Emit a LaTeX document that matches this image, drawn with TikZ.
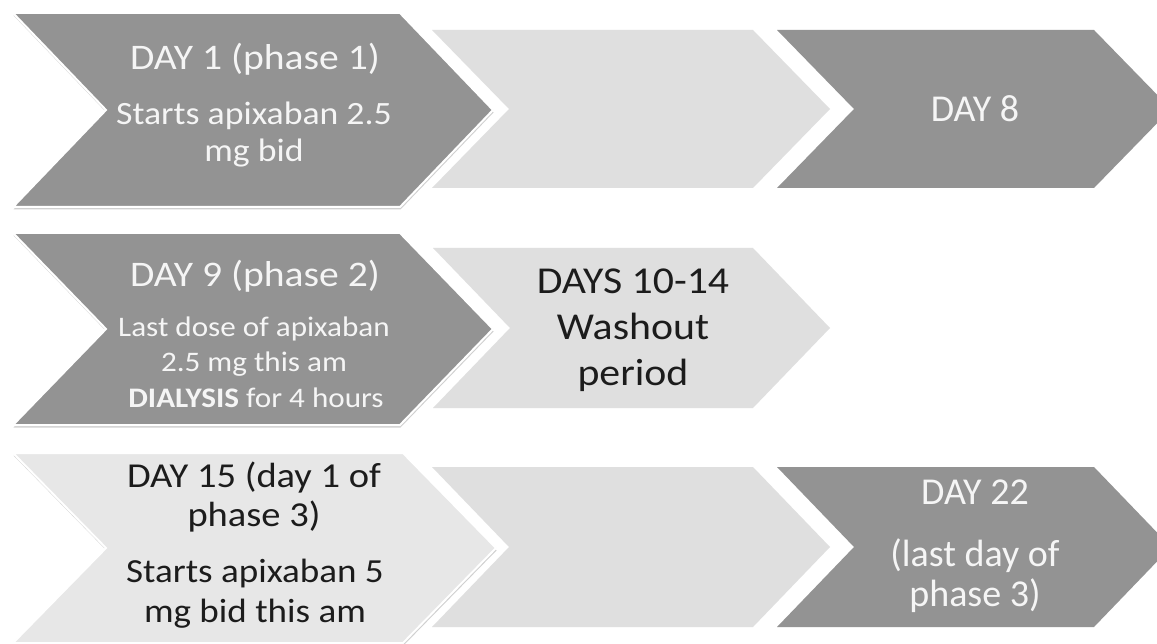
\documentclass[tikz,border=0pt]{standalone}
\usepackage{fontspec}
\setmainfont[FakeStretch=1.1]{Carlito}
\newfontfamily\plainfont{Carlito}
\usetikzlibrary{shadows}
\definecolor{darkchev}{HTML}{939393}
\definecolor{lightchev}{HTML}{DFDFDF}
\definecolor{palechev}{HTML}{E7E7E7}
\definecolor{whitetxt}{HTML}{F5F5F5}
\definecolor{darktxt}{HTML}{1C1C1C}
% #1 style, #2 left x, #3 top y, #4 bottom y, #5 top-right x, #6 depth
\newcommand{\chevron}[6]{%
  \path[#1] (#2,-#3) -- (#5,-#3) -- ({#5+#6},{-(#3+#4)/2}) -- (#5,-#4)
    -- (#2,-#4) -- ({#2+#6},{-(#3+#4)/2}) -- cycle;}
\tikzset{
  darkshape/.style={fill=darkchev},
  lightshape/.style={fill=lightchev},
  paleshape/.style={fill=palechev},
  leadshape/.style={draw=white, line width=2pt, line join=miter,
    drop shadow={shadow xshift=0.5pt, shadow yshift=-2.5pt, opacity=0.3, fill=black!60}},
  wtext/.style={text=whitetxt, anchor=base, inner sep=0pt},
  dtext/.style={text=darktxt, anchor=base, inner sep=0pt},
  headA/.style={font=\fontsize{36}{40}\selectfont},
  bigA/.style={font=\fontsize{32.5}{36}\selectfont},
  smallA/.style={font=\fontsize{28.3}{33}\selectfont},
  rowthreehead/.style={font=\fontsize{35}{39}\selectfont},
  rowthree/.style={font=\fontsize{33.7}{38}\selectfont},
  washout/.style={font=\fontsize{38}{44}\selectfont},
  endtext/.style={font=\plainfont\fontsize{38}{44}\selectfont},
}
\begin{document}
\begin{tikzpicture}[x=1pt,y=1pt]
\clip (0,0) rectangle (1157,-644);
\fill[white] (0,0) rectangle (1157,-644);

% ---- row 1
\chevron{lightshape}{432}{30}{188}{753}{77}
\chevron{darkshape}{777}{30}{188}{1094}{77}
\chevron{darkshape,leadshape}{13}{13}{207}{400}{93}
\node[wtext,headA] (a1l1) at (255,-70) {DAY 1 (phase 1)};
\node[wtext,bigA] (a1l2) at (254,-125) {Starts apixaban 2.5};
\node[wtext,bigA] (a1l3) at (254,-162) {mg bid};
\node[wtext,endtext] (c1l1) at (975,-122) {DAY 8};

% ---- row 2
\chevron{lightshape}{433}{248}{408}{753}{77}
\chevron{darkshape,leadshape}{13}{233}{425}{400}{93}
\node[wtext,headA] (a2l1) at (255,-287) {DAY 9 (phase 2)};
\node[wtext,smallA] (a2l2) at (254,-337) {Last dose of apixaban};
\node[wtext,smallA] (a2l3) at (254,-372) {2.5 mg this am};
\node[wtext,smallA] (a2l4) at (256,-407) {\textbf{DIALYSIS} for 4 hours};
\node[dtext,washout] (b2l1) at (633,-294) {DAYS 10-14};
\node[dtext,washout] (b2l2) at (633,-340) {Washout};
\node[dtext,washout] (b2l3) at (633,-385) {period};

% ---- row 3
\chevron{lightshape}{432}{467}{627}{753}{77}
\chevron{darkshape}{777}{467}{627}{1094}{77}
\chevron{paleshape,leadshape}{13}{453}{643}{403}{93}
\node[dtext,rowthreehead] (a3l1) at (254,-487) {DAY 15 (day 1 of};
\node[dtext,rowthreehead] (a3l2) at (254,-526) {phase 3)};
\node[dtext,rowthree] (a3l3) at (255,-582) {Starts apixaban 5};
\node[dtext,rowthree] (a3l4) at (255,-622) {mg bid this am};
\node[wtext,endtext] (c3l1) at (975,-504) {DAY 22};
\node[wtext,endtext] (c3l2) at (975,-566) {(last day of};
\node[wtext,endtext] (c3l3) at (975,-606) {phase 3)};
\end{tikzpicture}
\end{document}
